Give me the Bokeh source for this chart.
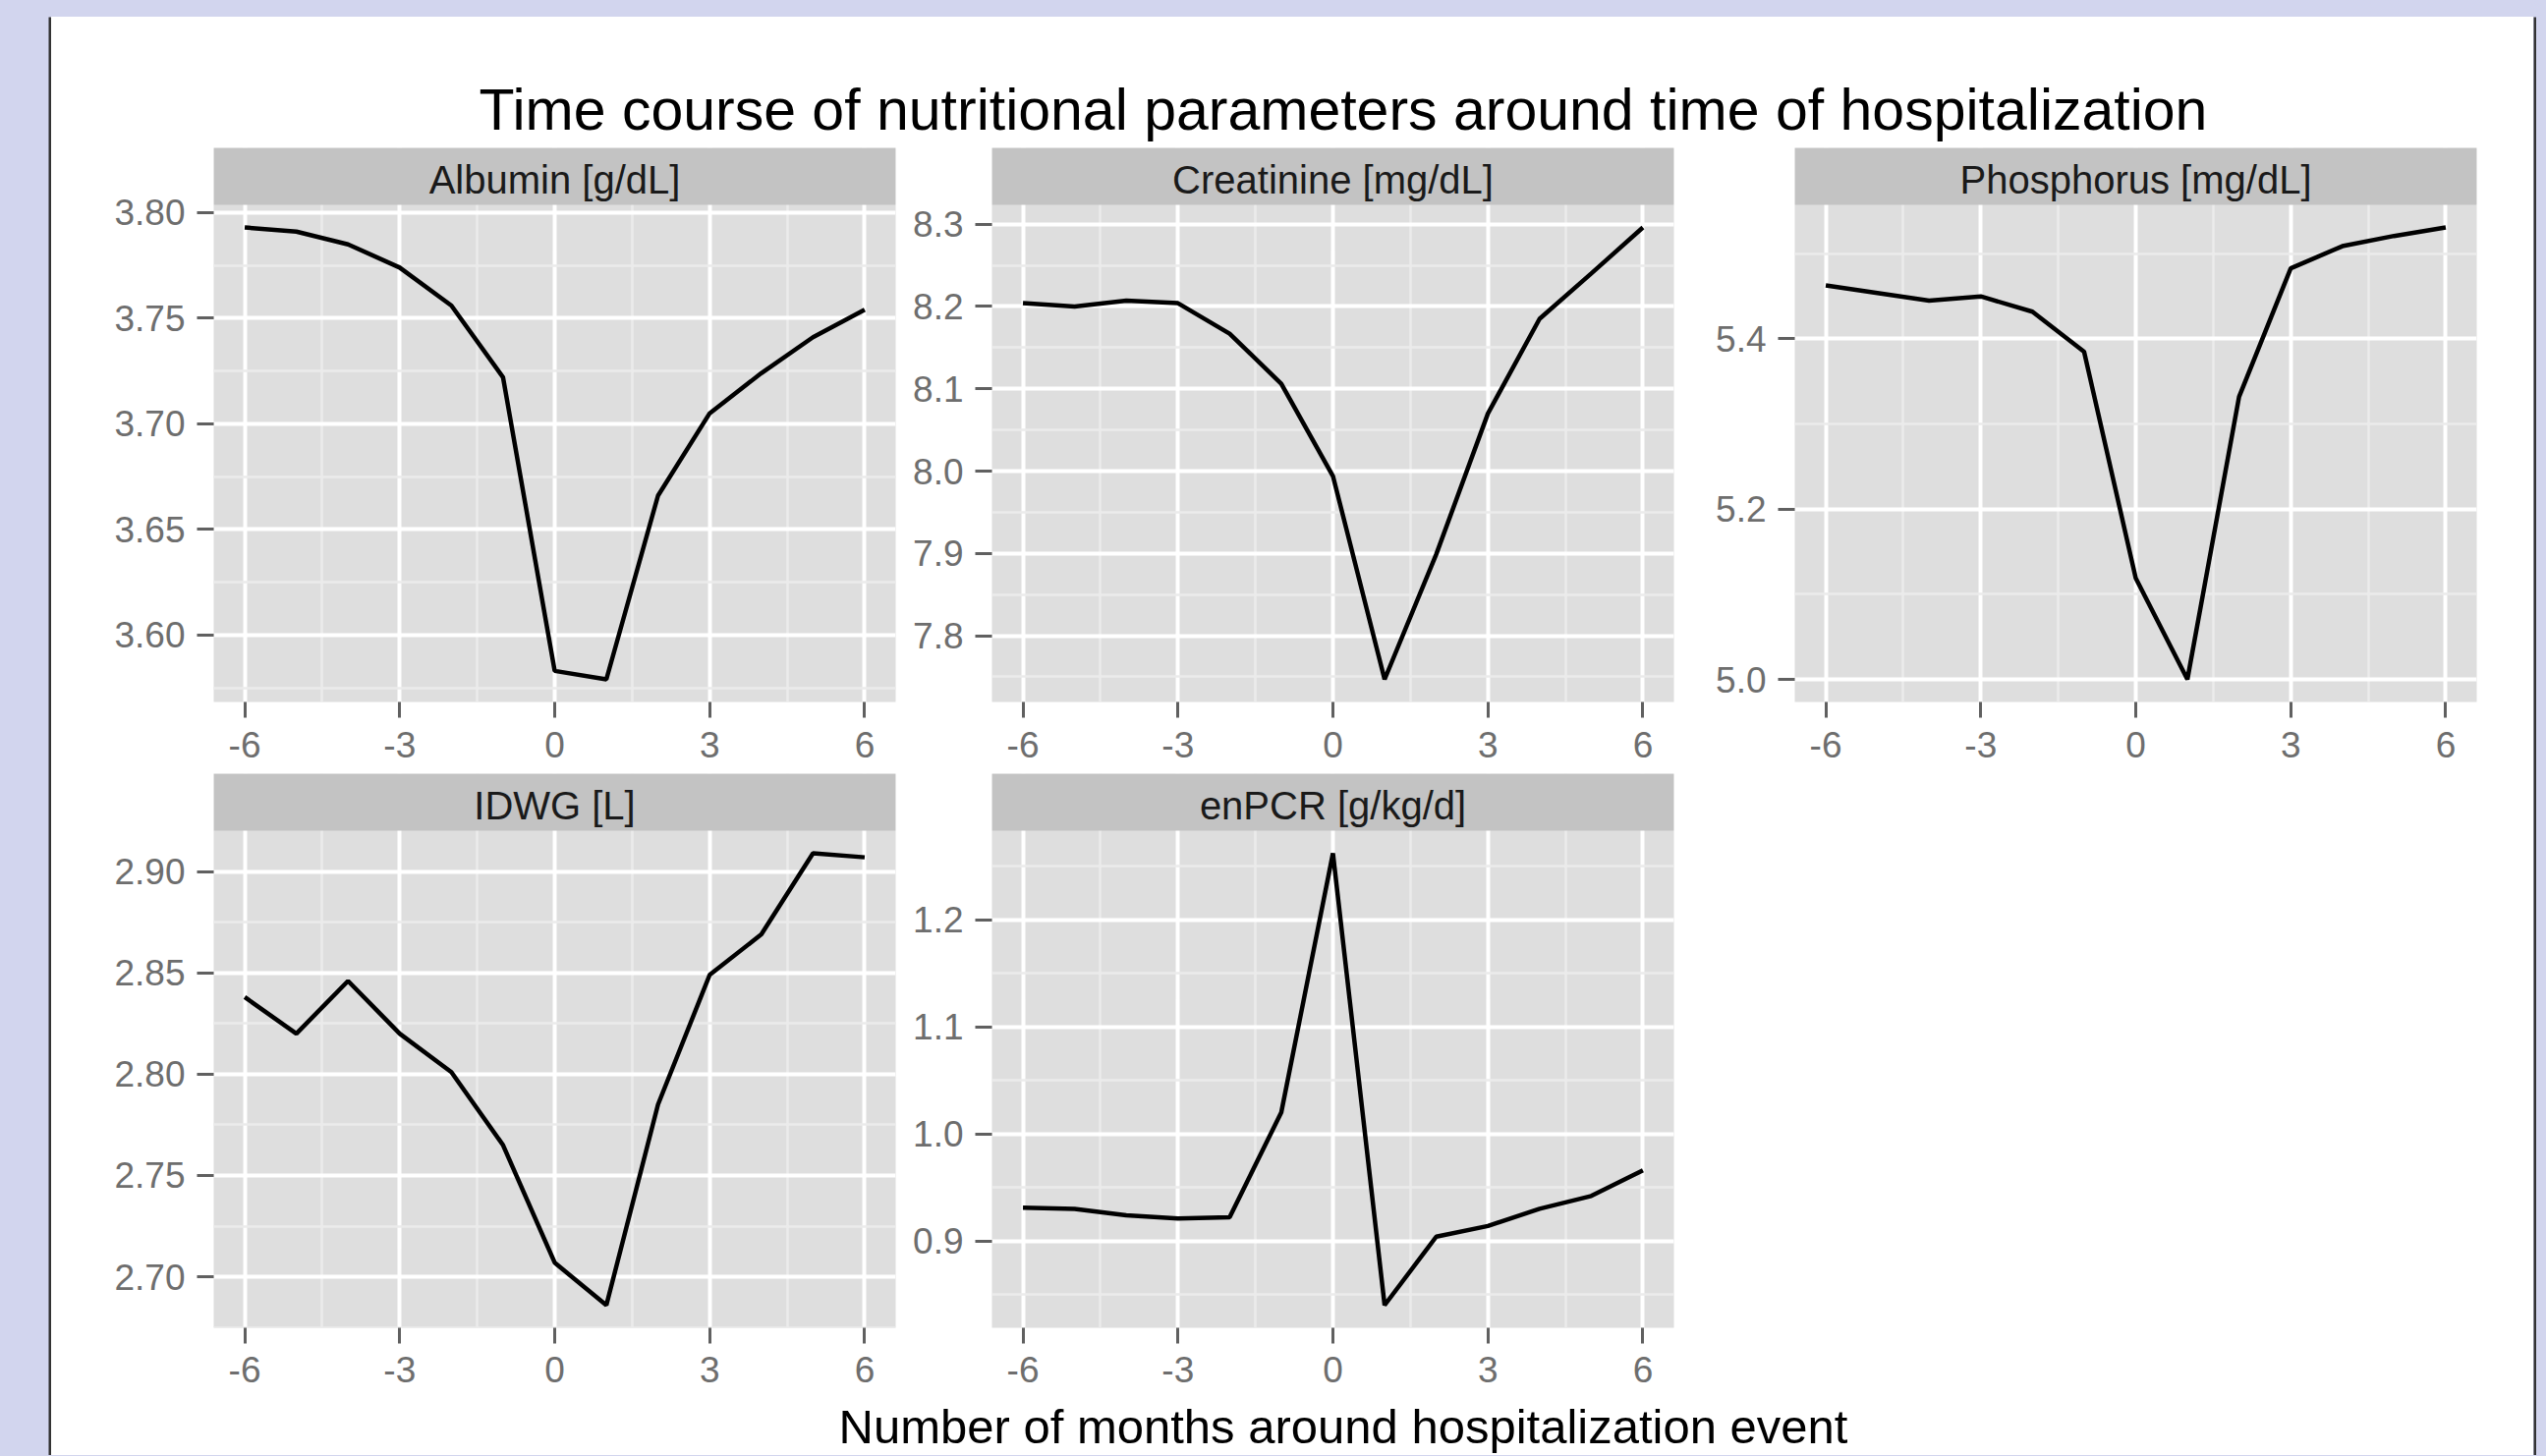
from bokeh.plotting import figure
from bokeh.layouts import column, row
from bokeh.models import Range1d, FixedTicker, NumeralTickFormatter, Spacer
from bokeh.core.properties import value
from bokeh.embed import file_html
from bokeh.resources import INLINE

# ---------------- data ----------------
months = [-6, -5, -4, -3, -2, -1, 0, 1, 2, 3, 4, 5, 6]
albumin = [3.793, 3.791, 3.785, 3.774, 3.756, 3.722, 3.583, 3.579, 3.666, 3.705, 3.724, 3.741, 3.754]
creatinine = [8.204, 8.200, 8.207, 8.204, 8.167, 8.106, 7.994, 7.747, 7.899, 8.070, 8.185, 8.240, 8.296]
phosphorus = [5.463, 5.454, 5.445, 5.450, 5.432, 5.385, 5.119, 5.000, 5.332, 5.483, 5.509, 5.521, 5.531]
idwg = [2.838, 2.820, 2.846, 2.820, 2.801, 2.765, 2.707, 2.686, 2.785, 2.849, 2.869, 2.909, 2.907]
enpcr = [0.931, 0.930, 0.924, 0.921, 0.922, 1.020, 1.262, 0.840, 0.904, 0.914, 0.930, 0.942, 0.966]

panel_titles = ["Albumin [g/dL]", "Creatinine [mg/dL]", "Phosphorus [mg/dL]", "IDWG [L]", "enPCR [g/kg/d]"]
x_ticks = [-6, -3, 0, 3, 6]
x_tick_labels = ["-6", "-3", "0", "3", "6"]
albumin_ticks = [3.60, 3.65, 3.70, 3.75, 3.80]
creatinine_ticks = [7.8, 7.9, 8.0, 8.1, 8.2, 8.3]
phosphorus_ticks = [5.0, 5.2, 5.4]
idwg_ticks = [2.70, 2.75, 2.80, 2.85, 2.90]
enpcr_ticks = [0.9, 1.0, 1.1, 1.2]

main_title = "Time course of nutritional parameters around time of hospitalization"
x_title = "Number of months around hospitalization event"

# ---------------- style ----------------
FONT = "Liberation Sans"
PAGE_BG = "#D2D5EE"
PANEL_BG = "#DEDEDE"
STRIP_BG = "#C3C3C3"
MINOR = "#EBEBEB"
TICK_COL = "#606060"
LABEL_COL = "#6E6E6E"
BORDER = "#333333"
WHITE = {"background-color": "white"}

FRAME_W = 694
PANEL_H = 506
STRIP_H = 58
CONTENT_W = 2526
STRIP_FS = 40
TICK_FS = "37px"


def minor_from(ticks, lo, hi):
    step = ticks[1] - ticks[0]
    cands = [ticks[0] - step / 2] + [(a + b) / 2 for a, b in zip(ticks[:-1], ticks[1:])] + [ticks[-1] + step / 2]
    return [c for c in cands if lo <= c <= hi]


def panel(ys, yticks, fmt, label, ml, mr, mt, mb, xstand):
    xlo, xhi = min(months), max(months)
    xpad = 0.05 * (xhi - xlo)
    x0, x1 = xlo - xpad, xhi + xpad
    lo, hi = min(ys), max(ys)
    pad = 0.05 * (hi - lo)
    y0, y1 = lo - pad, hi + pad
    ytop = y1 + (y1 - y0) * STRIP_H / PANEL_H
    upp = (y1 - y0) / PANEL_H  # data units per pixel
    p = figure(frame_width=FRAME_W, frame_height=PANEL_H + STRIP_H,
               x_range=Range1d(x0, x1), y_range=Range1d(y0, ytop),
               output_backend="svg", toolbar_location=None, title_location=None,
               min_border_left=ml, min_border_right=mr, min_border_top=mt, min_border_bottom=mb)
    p.background_fill_color = PANEL_BG
    p.border_fill_color = "white"
    p.outline_line_color = None
    xt = FixedTicker(ticks=x_ticks, minor_ticks=minor_from(x_ticks, x0, x1))
    yt = FixedTicker(ticks=yticks, minor_ticks=minor_from(yticks, y0, y1))
    p.xaxis.ticker = xt
    p.xgrid.ticker = xt
    p.yaxis.ticker = yt
    p.ygrid.ticker = yt
    p.xaxis.major_label_overrides = dict(zip(x_ticks, x_tick_labels))
    p.yaxis.formatter = NumeralTickFormatter(format=fmt)
    for ax in (p.xaxis[0], p.yaxis[0]):
        ax.axis_line_color = None
        ax.major_tick_line_color = TICK_COL
        ax.major_tick_line_width = 3
        ax.major_tick_in = 0
        ax.minor_tick_line_color = None
        ax.major_label_text_font = FONT
        ax.major_label_text_font_size = TICK_FS
        ax.major_label_text_color = LABEL_COL
    p.xaxis.major_tick_out = 16
    p.yaxis.major_tick_out = 17
    p.xaxis.major_label_standoff = xstand
    p.yaxis.major_label_standoff = 12
    for g in (p.xgrid[0], p.ygrid[0]):
        g.grid_line_color = "white"
        g.grid_line_width = 4
        g.minor_grid_line_color = MINOR
        g.minor_grid_line_width = 2.5
    p.line(months, ys, line_color="black", line_width=4.5)
    p.quad(left=[x0], right=[x1], bottom=[y1], top=[ytop], fill_color=STRIP_BG, line_color=None)
    p.text(x=[(x0 + x1) / 2], y=[(y1 + ytop) / 2 - 3 * upp], text=[label], text_align="center",
           text_baseline="middle", text_font=value(FONT), text_font_size="%dpx" % STRIP_FS,
           text_color="#1A1A1A")
    return p


def plain_fig(w, h, color="white"):
    f = figure(frame_width=w, frame_height=h, x_range=Range1d(0, w), y_range=Range1d(0, h),
               output_backend="svg", toolbar_location=None, title_location=None,
               x_axis_type=None, y_axis_type=None, min_border=0)
    f.background_fill_color = color
    f.border_fill_color = color
    f.outline_line_color = None
    f.grid.visible = False
    return f


def text_fig(w, h, txt, x, y_mid, size):
    f = plain_fig(w, h)
    f.text(x=[x], y=[y_mid], text=[txt], text_align="center", text_baseline="middle",
           text_font=value(FONT), text_font_size=size, text_color="black")
    return f


# row 1: frames y 150..714, figure y 147..787
p1 = panel(albumin, albumin_ticks, "0.00", panel_titles[0], 165, 4, 3, 73, 14)
p2 = panel(creatinine, creatinine_ticks, "0.0", panel_titles[1], 94, 7, 3, 73, 14)
p3 = panel(phosphorus, phosphorus_ticks, "0.0", panel_titles[2], 116, 58, 3, 73, 14)
# row 2: frames y 787..1351, figure y 787..1423
p4 = panel(idwg, idwg_ticks, "0.00", panel_titles[3], 165, 4, 0, 72, 13)
p5 = panel(enpcr, enpcr_ticks, "0.0", panel_titles[4], 94, 7, 0, 72, 13)
blank = plain_fig(868, 636)

# title: figure spans y 20..147, wanted baseline near 132
title_fig = text_fig(CONTENT_W, 127, main_title, 1314.5, 15 + 0.3465 * 59, "59px")
# x label: figure spans y 1423..1481
xlab_fig = text_fig(CONTENT_W, 58, x_title, 1314.5, 29.5, "49px")

top_border = plain_fig(CONTENT_W, 3, BORDER)
left_border = plain_fig(3, 1464, BORDER)
right_border = plain_fig(3, 1464, BORDER)

content = column(top_border, title_fig,
                 row(p1, p2, p3, styles=WHITE),
                 row(p4, p5, blank, styles=WHITE),
                 xlab_fig, styles=WHITE)
root = column(Spacer(width=10, height=17),
              row(Spacer(width=49, height=10), left_border, content, right_border))

html = file_html(root, INLINE, title="Time course of nutritional parameters")
i = html.index("</head>")
j = html.index("<body", i)
html = html[:j] + '<body style="background-color:%s"' % PAGE_BG + html[j + 5:]
open("out.html", "w").write(html)
